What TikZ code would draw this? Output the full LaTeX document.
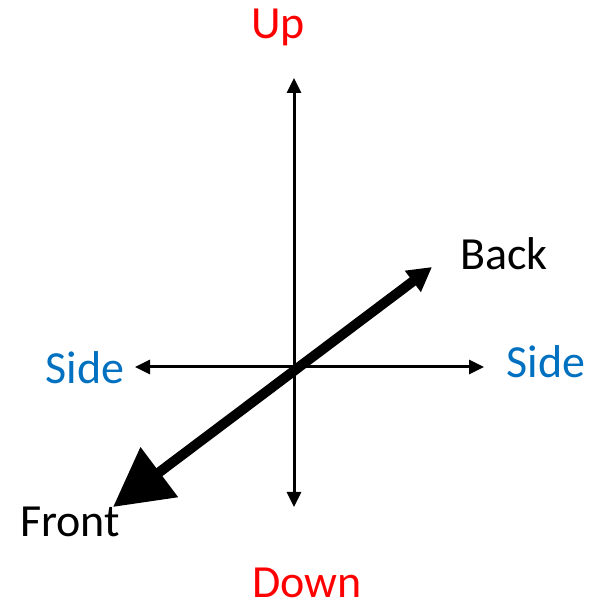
\documentclass[tikz,border=0pt]{standalone}
\usepackage{fontspec}
\setmainfont{Carlito}
\usetikzlibrary{arrows.meta}
\definecolor{upred}{RGB}{255,0,0}
\definecolor{sideblue}{RGB}{0,112,192}
\tikzset{
  axisboth/.style={line width=3pt,{Triangle[length=15pt,width=14pt]}-{Triangle[length=15pt,width=14pt]}},
  depth/.style={line width=10pt,{Triangle[length=58pt,width=60pt]}-{Triangle[length=24pt,width=25pt]}},
  lbl/.style={font=\fontsize{46}{52}\selectfont,inner sep=0pt},
}
\begin{document}
\begin{tikzpicture}[x=1pt,y=1pt]
\useasboundingbox (0,0) rectangle (601,610);
\coordinate (upTip) at (294,532);
\coordinate (downTip) at (294,103);
\coordinate (leftTip) at (135,243);
\coordinate (rightTip) at (484,243);
\coordinate (backTip) at (432,343);
\coordinate (frontTip) at (113,103);
\draw[axisboth] (downTip) -- (upTip);
\draw[axisboth] (leftTip) -- (rightTip);
\draw[depth] (frontTip) -- (backTip);
\node[lbl,text=upred] (up) at (278,583) {Up};
\node[lbl,text=upred] (down) at (307,27) {Down};
\node[lbl,text=sideblue] (sideL) at (85,242) {Side};
\node[lbl,text=sideblue] (sideR) at (546,248) {Side};
\node[lbl] (back) at (504,356) {Back};
\node[lbl] (front) at (70,88) {Front};
\end{tikzpicture}
\end{document}
